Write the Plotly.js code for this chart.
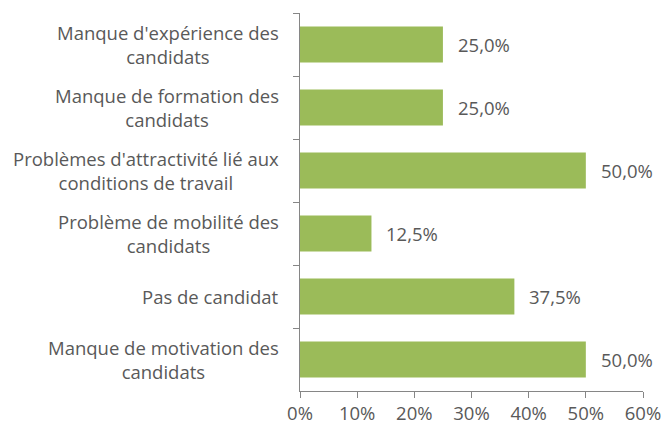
<!DOCTYPE html>
<html>
<head>
<meta charset="utf-8">
<script src="https://cdn.plot.ly/plotly-3.0.1.min.js"></script>
<style>html,body{margin:0;padding:0;background:#fff;}#chart{width:664px;height:425px;}</style>
</head>
<body>
<div id="chart"></div>
<script>
var categories = [
  "Manque d'expérience des<br>candidats",
  "Manque de formation des<br>candidats",
  "Problèmes d'attractivité lié aux<br>conditions de travail",
  "Problème de mobilité des<br>candidats",
  "Pas de candidat",
  "Manque de motivation des<br>candidats"
];
var values = [0.25, 0.25, 0.50, 0.125, 0.375, 0.50];
var valueLabels = ["25,0%", "25,0%", "50,0%", "12,5%", "37,5%", "50,0%"];
var xTickVals = [0, 0.1, 0.2, 0.3, 0.4, 0.5, 0.6];
var xTickText = ["0%", "10%", "20%", "30%", "40%", "50%", "60%"];

var FONT = "'Open Sans', Lato, sans-serif";
var FS = 18.5;
var TXT = "#595959";
var AX = "#868686";

var annotations = [];
categories.forEach(function (c, i) {
  annotations.push({
    xref: "paper", yref: "y", x: 0, y: c, xanchor: "right", yanchor: "middle",
    xshift: -19, text: c, showarrow: false, align: "center",
    font: {family: FONT, size: FS, color: TXT}
  });
  annotations.push({
    xref: "x", yref: "y", x: values[i], y: c, xanchor: "left", yanchor: "middle",
    xshift: 13, text: valueLabels[i], showarrow: false,
    font: {family: FONT, size: FS, color: TXT}
  });
});

var trace = {
  type: "bar", orientation: "h",
  y: categories, x: values,
  marker: {color: "#9BBB59"},
  hoverinfo: "none"
};

var layout = {
  width: 664, height: 425,
  margin: {l: 300, r: 21, t: 13, b: 34},
  paper_bgcolor: "#fff", plot_bgcolor: "#fff",
  bargap: 0.43,
  showlegend: false,
  font: {family: FONT, size: FS, color: TXT},
  xaxis: {
    range: [0, 0.6], tickvals: xTickVals, ticktext: xTickText,
    showgrid: false, zeroline: false, showline: true, linecolor: AX, linewidth: 1,
    ticks: "outside", ticklen: 6, tickcolor: AX, tickwidth: 1,
    tickfont: {family: FONT, size: FS, color: TXT}
  },
  yaxis: {
    type: "category", categoryorder: "array", categoryarray: categories,
    autorange: "reversed", showticklabels: false,
    showgrid: false, zeroline: false, showline: true, linecolor: AX, linewidth: 1,
    ticks: "outside", tickson: "boundaries", ticklen: 6, tickcolor: AX, tickwidth: 1
  },
  annotations: annotations
};

Plotly.newPlot("chart", [trace], layout, {displayModeBar: false, staticPlot: true});
</script>
</body>
</html>
